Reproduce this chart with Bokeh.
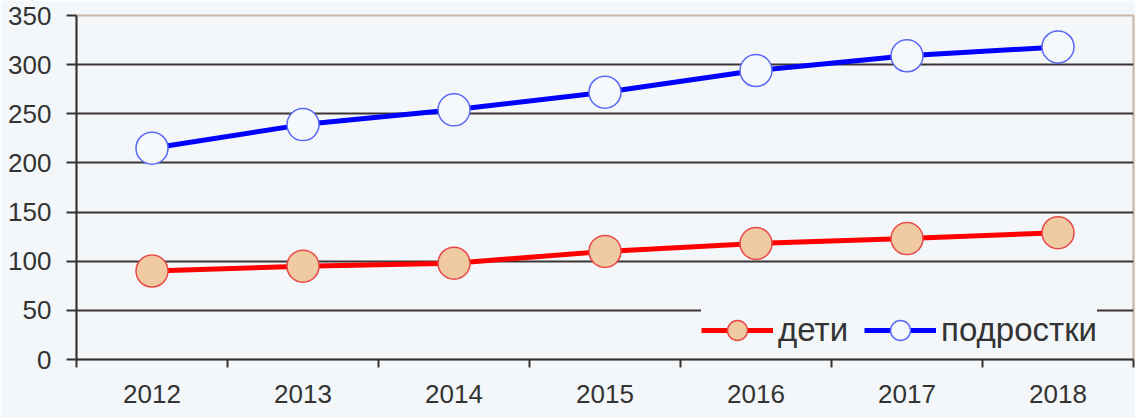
import numpy as np
from bokeh.plotting import figure
from bokeh.models import FixedTicker, Legend, LegendItem
from bokeh.embed import file_html
from bokeh.resources import INLINE

years = ["2012", "2013", "2014", "2015", "2016", "2017", "2018"]
deti = [90, 95, 98, 110, 118, 123, 129]
podrostki = [215, 239, 254, 272, 294, 309, 318]
y_ticks = [0, 50, 100, 150, 200, 250, 300, 350]

x = np.arange(len(years)) + 0.5
BG = "#F4F7F9"
FONT = "Liberation Sans"

p = figure(width=1135, height=417, output_backend="svg", toolbar_location=None,
           x_range=(0, len(years)), y_range=(0, 350),
           min_border_left=76, min_border_right=2, min_border_top=15, min_border_bottom=58,
           background_fill_color=BG, border_fill_color=BG)

p.outline_line_color = "#C8B4A0"
p.outline_line_width = 2

p.xgrid.visible = False
p.ygrid.ticker = FixedTicker(ticks=y_ticks[1:-1])
p.ygrid.grid_line_color = "#3C3434"
p.ygrid.grid_line_width = 2

# y axis
p.yaxis.ticker = FixedTicker(ticks=y_ticks)
p.yaxis.axis_line_color = "#333333"
p.yaxis.axis_line_width = 2
p.yaxis.major_tick_line_color = "#333333"
p.yaxis.major_tick_line_width = 2
p.yaxis.major_tick_out = 10
p.yaxis.major_tick_in = 0
p.yaxis.minor_tick_line_color = None
p.yaxis.major_label_standoff = 15
p.yaxis.major_label_text_font = FONT
p.yaxis.major_label_text_font_size = "26px"
p.yaxis.major_label_text_color = "#333333"

# x axis: labels at centers, ticks at boundaries
p.xaxis.ticker = FixedTicker(ticks=list(x), minor_ticks=list(range(len(years) + 1)))
p.xaxis.major_label_overrides = {float(v): y for v, y in zip(x, years)}
p.xaxis.axis_line_color = "#333333"
p.xaxis.axis_line_width = 2
p.xaxis.major_tick_line_color = None
p.xaxis.minor_tick_line_color = "#333333"
p.xaxis.minor_tick_line_width = 2
p.xaxis.minor_tick_out = 8
p.xaxis.minor_tick_in = 0
p.xaxis.major_label_standoff = 17
p.xaxis.major_label_text_font = FONT
p.xaxis.major_label_text_font_size = "26px"
p.xaxis.major_label_text_color = "#333333"

l1 = p.line(x, deti, line_color="#FF0000", line_width=5)
s1 = p.scatter(x, deti, size=32, fill_color="#F0CAA0", line_color="#E84848", line_width=1.5)
l2 = p.line(x, podrostki, line_color="#0000FF", line_width=5)
s2 = p.scatter(x, podrostki, size=32, fill_color="#F6F9FB", line_color="#5A68F4", line_width=1.5)

legend = Legend(items=[LegendItem(label="дети", renderers=[l1, s1]),
                       LegendItem(label="подростки", renderers=[l2, s2])],
                orientation="horizontal", location=(625, 4), margin=0, padding=4,
                glyph_width=72, glyph_height=50, label_standoff=5, spacing=16,
                background_fill_color=BG, background_fill_alpha=1.0,
                border_line_color=None,
                label_text_font=FONT, label_text_font_size="33px",
                label_text_color="#333333")
p.add_layout(legend, "center")

open("out.html", "w").write(file_html(p, INLINE))
